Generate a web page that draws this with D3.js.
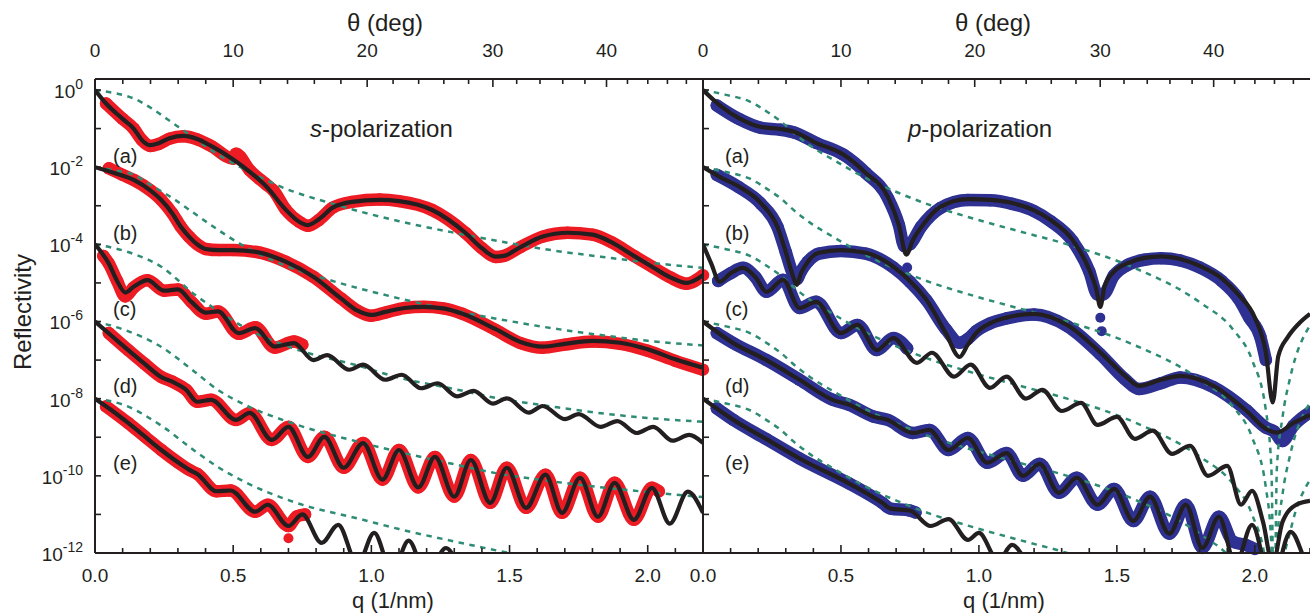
<!DOCTYPE html>
<html><head><meta charset="utf-8">
<script src="https://cdn.jsdelivr.net/npm/d3@7"></script>
<style>
body{margin:0;background:#fff;}
text{font-family:"Liberation Sans",Arial,Helvetica,sans-serif;fill:#231f20;}
</style></head><body>
<svg id="chart" width="1310" height="614"></svg>
<script>
// ---------- DATA: [q (1/nm), log10(Reflectivity)] ----------
// s-polarization: fits (black), data (red), Fresnel reference (green dashed)
const sFitA=[[0,0],[0.04,-0.35],[0.1,-0.75],[0.14,-1.0],[0.17,-1.3],[0.2,-1.43],[0.23,-1.38],[0.27,-1.25],[0.32,-1.19],[0.37,-1.27],[0.42,-1.45],[0.5,-1.8],[0.56,-2.12],[0.62,-2.5],[0.69,-3.1],[0.74,-3.42],[0.77,-3.5],[0.81,-3.35],[0.86,-3.05],[0.93,-2.9],[1.03,-2.85],[1.1,-2.88],[1.22,-3.11],[1.34,-3.7],[1.40,-4.1],[1.45,-4.32],[1.48,-4.3],[1.54,-4.07],[1.62,-3.8],[1.71,-3.7],[1.8,-3.75],[1.87,-3.95],[1.95,-4.3],[2.02,-4.6],[2.08,-4.85],[2.14,-5.0],[2.2,-4.8]];
const sFitB=[[0,-2.0],[0.07,-2.15],[0.14,-2.33],[0.2,-2.6],[0.24,-2.85],[0.28,-3.2],[0.31,-3.54],[0.34,-3.8],[0.37,-4.0],[0.40,-4.12],[0.45,-4.15],[0.5,-4.15],[0.6,-4.22],[0.69,-4.45],[0.79,-4.84],[0.89,-5.4],[0.95,-5.72],[1.0,-5.83],[1.05,-5.75],[1.12,-5.65],[1.19,-5.62],[1.26,-5.66],[1.33,-5.8],[1.45,-6.2],[1.54,-6.53],[1.62,-6.65],[1.7,-6.58],[1.80,-6.5],[1.9,-6.55],[2.0,-6.72],[2.1,-6.98],[2.2,-7.2]];
const sFitC=[[0,-4.0],[0.05,-4.5],[0.08,-4.95],[0.11,-5.25],[0.14,-5.1],[0.19,-4.93],[0.25,-5.2],[0.30,-5.17],[0.35,-5.5],[0.40,-5.77],[0.445,-5.74],[0.52,-6.3],[0.58,-6.17],[0.65,-6.65],[0.72,-6.56],[0.79,-7.0],[0.84,-6.87],[0.92,-7.25],[0.97,-7.12],[1.05,-7.51],[1.11,-7.38],[1.18,-7.73],[1.24,-7.6],[1.31,-7.94],[1.37,-7.8],[1.44,-8.13],[1.49,-7.99],[1.57,-8.36],[1.62,-8.19],[1.70,-8.53],[1.75,-8.4],[1.83,-8.73],[1.89,-8.58],[1.96,-8.89],[2.02,-8.73],[2.09,-9.09],[2.15,-8.94],[2.2,-9.15]];
const sFitD=[[0,-6.0],[0.06,-6.37],[0.12,-6.74],[0.18,-7.1],[0.24,-7.44],[0.28,-7.56],[0.33,-7.77],[0.37,-8.08],[0.42,-8.03],[0.51,-8.55],[0.56,-8.37],[0.64,-9.07],[0.70,-8.73],[0.77,-9.51],[0.83,-8.99],[0.90,-9.79],[0.97,-9.15],[1.04,-10.1],[1.10,-9.33],[1.17,-10.3],[1.23,-9.51],[1.30,-10.54],[1.36,-9.59],[1.43,-10.7],[1.49,-9.79],[1.56,-10.83],[1.63,-9.97],[1.69,-10.96],[1.755,-10.05],[1.82,-11.06],[1.88,-10.18],[1.95,-11.14],[2.015,-10.31],[2.08,-11.24],[2.145,-10.41],[2.2,-10.96]];
const sFitE=[[0,-8.0],[0.06,-8.3],[0.12,-8.63],[0.18,-8.98],[0.24,-9.33],[0.30,-9.65],[0.34,-9.84],[0.37,-9.95],[0.44,-10.4],[0.49,-10.38],[0.58,-10.93],[0.625,-10.75],[0.70,-11.3],[0.75,-11.0],[0.82,-11.74],[0.88,-11.27],[0.95,-12.3],[1.01,-11.48],[1.075,-12.5],[1.135,-11.68],[1.2,-12.6],[1.27,-11.87],[1.33,-12.7]];
const sDataA=[[0.04,-0.35],[0.1,-0.75],[0.14,-1.0],[0.17,-1.3],[0.2,-1.45],[0.23,-1.4],[0.27,-1.26],[0.32,-1.2],[0.37,-1.28],[0.42,-1.45],[0.5,-1.78],[0.51,-1.65],[0.56,-2.08],[0.62,-2.45],[0.645,-2.6],[0.69,-3.1],[0.74,-3.42],[0.77,-3.52],[0.81,-3.37],[0.86,-3.05],[0.93,-2.9],[1.03,-2.84],[1.1,-2.88],[1.22,-3.11],[1.34,-3.7],[1.40,-4.1],[1.45,-4.33],[1.48,-4.3],[1.54,-4.07],[1.62,-3.8],[1.71,-3.7],[1.8,-3.75],[1.87,-3.95],[1.95,-4.3],[2.02,-4.6],[2.08,-4.85],[2.14,-5.02],[2.2,-4.8]];
const sDataB=[[0.05,-2.03],[0.1,-2.2],[0.14,-2.33],[0.2,-2.6],[0.24,-2.85],[0.28,-3.2],[0.31,-3.54],[0.34,-3.8],[0.37,-4.0],[0.40,-4.12],[0.45,-4.15],[0.5,-4.15],[0.6,-4.22],[0.69,-4.45],[0.79,-4.84],[0.89,-5.4],[0.95,-5.72],[1.0,-5.85],[1.05,-5.77],[1.12,-5.65],[1.19,-5.62],[1.26,-5.66],[1.33,-5.8],[1.45,-6.22],[1.54,-6.56],[1.62,-6.68],[1.7,-6.6],[1.80,-6.52],[1.9,-6.58],[2.0,-6.76],[2.1,-7.02],[2.2,-7.25]];
const sDataC=[[0.03,-4.3],[0.05,-4.5],[0.08,-4.95],[0.11,-5.35],[0.14,-5.12],[0.19,-4.93],[0.25,-5.2],[0.30,-5.17],[0.35,-5.5],[0.40,-5.8],[0.445,-5.74],[0.52,-6.32],[0.58,-6.15],[0.65,-6.68],[0.72,-6.52],[0.75,-6.6]];
const sDataD=[[0.05,-6.3],[0.12,-6.74],[0.18,-7.1],[0.24,-7.44],[0.28,-7.56],[0.33,-7.77],[0.37,-8.08],[0.42,-8.03],[0.51,-8.55],[0.56,-8.37],[0.64,-9.07],[0.70,-8.73],[0.77,-9.51],[0.83,-8.99],[0.90,-9.79],[0.97,-9.15],[1.04,-10.1],[1.10,-9.33],[1.17,-10.3],[1.23,-9.51],[1.30,-10.54],[1.36,-9.59],[1.43,-10.7],[1.49,-9.79],[1.56,-10.83],[1.63,-9.97],[1.69,-10.96],[1.755,-10.05],[1.82,-11.06],[1.88,-10.18],[1.95,-11.14],[2.015,-10.31],[2.04,-10.4]];
const sDataE=[[0.04,-8.2],[0.12,-8.63],[0.18,-8.98],[0.24,-9.33],[0.30,-9.65],[0.34,-9.84],[0.37,-9.95],[0.44,-10.4],[0.49,-10.38],[0.58,-10.93],[0.625,-10.75],[0.70,-11.3],[0.73,-11.05],[0.76,-11.0]];
const sOutliers=[[0.70,-11.62]];
const sRefA=[[0,0],[0.07,-0.08],[0.14,-0.22],[0.21,-0.5],[0.28,-0.85],[0.35,-1.2],[0.44,-1.65],[0.54,-2.05],[0.67,-2.5],[0.86,-2.95],[1.1,-3.4],[1.3,-3.7],[1.47,-3.93],[1.65,-4.15],[1.83,-4.32],[2.0,-4.47],[2.2,-4.61]];
const sRefB=[[0,-2.0],[0.07,-2.08],[0.14,-2.2],[0.21,-2.5],[0.28,-2.8],[0.35,-3.15],[0.44,-3.6],[0.54,-4.05],[0.67,-4.5],[0.86,-4.95],[1.1,-5.4],[1.3,-5.72],[1.47,-5.95],[1.65,-6.17],[1.83,-6.35],[2.0,-6.5],[2.2,-6.62]];
const sRefC=[[0,-4.0],[0.07,-4.1],[0.14,-4.25],[0.24,-4.58],[0.36,-5.3],[0.44,-5.7],[0.54,-6.15],[0.72,-6.7],[0.97,-7.18],[1.085,-7.43],[1.3,-7.75],[1.45,-7.98],[1.65,-8.2],[1.81,-8.36],[2.0,-8.5],[2.2,-8.6]];
const sRefD=[[0,-6.0],[0.1,-6.2],[0.24,-6.66],[0.36,-7.3],[0.44,-7.75],[0.54,-8.15],[0.72,-8.65],[0.97,-9.15],[1.1,-9.38],[1.3,-9.7],[1.45,-9.93],[1.63,-10.12],[1.81,-10.28],[2.0,-10.42],[2.2,-10.55]];
const sRefE=[[0,-8.0],[0.1,-8.15],[0.24,-8.7],[0.36,-9.35],[0.44,-9.75],[0.54,-10.15],[0.72,-10.68],[0.97,-11.14],[1.1,-11.38],[1.3,-11.7],[1.5,-12.0],[1.7,-12.25]];

// p-polarization
const pFitA=[[0,0],[0.06,-0.39],[0.13,-0.73],[0.21,-0.96],[0.28,-1.01],[0.33,-1.08],[0.41,-1.37],[0.51,-1.68],[0.59,-2.15],[0.67,-2.77],[0.71,-3.5],[0.737,-4.27],[0.76,-3.9],[0.797,-3.5],[0.86,-3.03],[0.96,-2.83],[1.04,-2.85],[1.12,-2.93],[1.2,-3.12],[1.26,-3.37],[1.34,-3.89],[1.40,-4.66],[1.425,-5.15],[1.44,-5.62],[1.455,-5.1],[1.49,-4.7],[1.535,-4.5],[1.6,-4.35],[1.66,-4.31],[1.73,-4.38],[1.80,-4.56],[1.88,-4.88],[1.94,-5.3],[2.0,-5.9],[2.04,-6.8],[2.065,-8.1],[2.085,-6.9],[2.12,-6.4],[2.16,-6.05],[2.2,-5.8]];
const pFitB=[[0,-2.0],[0.06,-2.25],[0.13,-2.5],[0.21,-2.93],[0.27,-3.55],[0.30,-4.2],[0.325,-4.8],[0.34,-5.05],[0.355,-4.75],[0.38,-4.45],[0.42,-4.22],[0.5,-4.15],[0.59,-4.22],[0.69,-4.58],[0.75,-4.95],[0.81,-5.44],[0.88,-6.3],[0.93,-6.92],[0.96,-6.6],[0.99,-6.3],[1.04,-6.05],[1.1,-5.9],[1.2,-5.8],[1.32,-6.09],[1.44,-6.8],[1.53,-7.41],[1.58,-7.67],[1.66,-7.51],[1.73,-7.41],[1.85,-7.67],[1.97,-8.32],[2.04,-8.78],[2.08,-8.88],[2.14,-8.63],[2.2,-8.42]];
const pFitC=[[0,-4.0],[0.03,-4.5],[0.06,-4.97],[0.1,-4.75],[0.145,-4.61],[0.19,-4.85],[0.23,-5.23],[0.29,-4.92],[0.35,-5.65],[0.41,-5.49],[0.50,-6.3],[0.56,-6.09],[0.63,-6.74],[0.69,-6.43],[0.775,-7.07],[0.83,-6.81],[0.91,-7.43],[0.97,-7.12],[1.04,-7.72],[1.10,-7.43],[1.17,-8.0],[1.23,-7.77],[1.30,-8.32],[1.37,-8.11],[1.43,-8.68],[1.50,-8.47],[1.565,-9.04],[1.63,-8.83],[1.70,-9.43],[1.765,-9.22],[1.83,-10.0],[1.90,-9.74],[1.95,-10.75],[1.99,-10.39],[2.03,-11.2],[2.065,-12.3],[2.1,-11.2],[2.15,-10.75],[2.2,-10.65]];
const pFitD=[[0,-6.0],[0.11,-6.56],[0.23,-7.0],[0.35,-7.51],[0.47,-8.03],[0.53,-8.16],[0.62,-8.47],[0.67,-8.55],[0.76,-8.89],[0.82,-8.81],[0.89,-9.33],[0.96,-9.02],[1.03,-9.66],[1.10,-9.41],[1.16,-10.0],[1.22,-9.69],[1.29,-10.44],[1.355,-10.05],[1.43,-10.75],[1.49,-10.34],[1.56,-11.17],[1.62,-10.54],[1.69,-11.5],[1.75,-10.75],[1.81,-11.87],[1.87,-11.06],[1.93,-12.3],[1.99,-11.27],[2.06,-12.8],[2.13,-11.45],[2.19,-12.3],[2.2,-12.4]];
const pFitE=[[0,-8.0],[0.11,-8.55],[0.23,-9.05],[0.35,-9.55],[0.53,-10.2],[0.65,-10.7],[0.68,-10.85],[0.75,-10.9],[0.825,-11.3],[0.89,-11.12],[0.96,-11.66],[1.0,-11.48],[1.07,-12.2],[1.12,-11.79],[1.18,-12.4]];
const pDataA=[[0.05,-0.4],[0.13,-0.75],[0.21,-0.98],[0.28,-1.03],[0.33,-1.1],[0.41,-1.37],[0.51,-1.68],[0.59,-2.15],[0.67,-2.8],[0.71,-3.5],[0.73,-4.05],[0.75,-4.0],[0.79,-3.55],[0.86,-3.06],[0.96,-2.85],[1.04,-2.86],[1.12,-2.95],[1.2,-3.14],[1.26,-3.4],[1.34,-3.92],[1.40,-4.7],[1.43,-5.3],[1.45,-5.3],[1.49,-4.8],[1.535,-4.55],[1.6,-4.4],[1.66,-4.36],[1.73,-4.42],[1.80,-4.6],[1.88,-4.95],[1.94,-5.4],[1.98,-5.9],[2.02,-6.4],[2.04,-7.0]];
const pDataB=[[0.05,-2.2],[0.13,-2.52],[0.21,-2.95],[0.27,-3.55],[0.30,-4.2],[0.325,-4.75],[0.34,-4.9],[0.355,-4.7],[0.38,-4.45],[0.42,-4.24],[0.5,-4.17],[0.59,-4.24],[0.69,-4.6],[0.75,-4.97],[0.81,-5.45],[0.88,-6.2],[0.93,-6.55],[0.96,-6.45],[0.99,-6.25],[1.04,-6.05],[1.1,-5.92],[1.2,-5.82],[1.32,-6.12],[1.44,-6.85],[1.53,-7.5],[1.58,-7.75],[1.66,-7.6],[1.73,-7.45],[1.85,-7.7],[1.97,-8.3],[2.04,-8.75],[2.07,-8.85],[2.1,-9.1],[2.14,-8.7],[2.2,-8.35]];
const pDataC=[[0.055,-4.95],[0.1,-4.75],[0.145,-4.61],[0.19,-4.85],[0.23,-5.23],[0.29,-4.92],[0.35,-5.65],[0.41,-5.49],[0.50,-6.3],[0.56,-6.09],[0.63,-6.74],[0.69,-6.43],[0.74,-6.7]];
const pDataD=[[0.05,-6.3],[0.11,-6.56],[0.23,-7.0],[0.35,-7.51],[0.47,-8.03],[0.53,-8.16],[0.62,-8.47],[0.67,-8.55],[0.76,-8.89],[0.82,-8.81],[0.89,-9.33],[0.96,-9.02],[1.03,-9.66],[1.10,-9.41],[1.16,-10.0],[1.22,-9.69],[1.29,-10.44],[1.355,-10.05],[1.43,-10.75],[1.49,-10.34],[1.56,-11.17],[1.62,-10.54],[1.69,-11.5],[1.75,-10.75],[1.81,-11.87],[1.87,-11.06],[1.92,-11.7],[1.97,-11.8],[2.0,-11.9]];
const pDataE=[[0.05,-8.25],[0.11,-8.55],[0.23,-9.05],[0.35,-9.55],[0.53,-10.2],[0.65,-10.7],[0.68,-10.85],[0.75,-10.9],[0.77,-10.95]];
const pOutliers=[[0.74,-4.6],[1.44,-5.9],[1.445,-6.25]];
const pRefA=[[0,0],[0.08,-0.12],[0.17,-0.3],[0.24,-0.6],[0.28,-0.8],[0.33,-1.12],[0.39,-1.45],[0.47,-1.8],[0.59,-2.28],[0.71,-2.67],[0.83,-3.0],[0.96,-3.29],[1.14,-3.65],[1.32,-4.0],[1.56,-4.6],[1.8,-5.5],[1.92,-6.2],[1.99,-7.0],[2.04,-8.3],[2.06,-9.8],[2.07,-14],[2.08,-9.8],[2.1,-8.5],[2.13,-7.4],[2.2,-6.1]];
const pRefB=[[0,-2.0],[0.08,-2.12],[0.17,-2.3],[0.24,-2.6],[0.28,-2.8],[0.33,-3.12],[0.39,-3.45],[0.47,-3.8],[0.59,-4.28],[0.71,-4.67],[0.83,-5.0],[0.96,-5.29],[1.14,-5.65],[1.32,-6.0],[1.56,-6.6],[1.8,-7.5],[1.92,-8.2],[1.99,-9.0],[2.04,-10.3],[2.06,-11.8],[2.07,-16],[2.08,-11.8],[2.1,-10.5],[2.13,-9.4],[2.2,-8.1]];
const pRefC=[[0,-4.0],[0.08,-4.12],[0.17,-4.3],[0.24,-4.6],[0.28,-4.8],[0.33,-5.12],[0.39,-5.45],[0.47,-5.8],[0.59,-6.28],[0.71,-6.67],[0.83,-7.0],[0.96,-7.29],[1.14,-7.65],[1.32,-8.0],[1.56,-8.6],[1.8,-9.5],[1.92,-10.2],[1.99,-11.0],[2.04,-12.3],[2.07,-18],[2.1,-12.5],[2.13,-11.4],[2.2,-10.1]];
const pRefD=[[0,-6.0],[0.08,-6.12],[0.17,-6.3],[0.24,-6.6],[0.28,-6.8],[0.33,-7.12],[0.39,-7.45],[0.47,-7.8],[0.59,-8.28],[0.71,-8.67],[0.83,-9.0],[0.96,-9.29],[1.14,-9.65],[1.32,-10.0],[1.56,-10.6],[1.8,-11.5],[1.92,-12.2],[1.99,-13.0],[2.07,-20],[2.13,-13.4],[2.2,-12.1]];
const pRefE=[[0,-8.0],[0.08,-8.12],[0.17,-8.3],[0.24,-8.6],[0.28,-8.8],[0.33,-9.12],[0.39,-9.45],[0.47,-9.8],[0.59,-10.28],[0.71,-10.67],[0.83,-11.0],[0.96,-11.29],[1.14,-11.65],[1.32,-12.0],[1.56,-12.6]];

// axis ticks & labels
const qTicks=[0,0.5,1.0,1.5,2.0];
const qTickLabels=["0.0","0.5","1.0","1.5","2.0"];
const qMinorStep=0.1;
const thetaTicks=[0,10,20,30,40];
const thetaTickLabels=["0","10","20","30","40"];
const thetaMinorStep=2;
const yTickExps=[0,-2,-4,-6,-8,-10,-12];
const curveLabels=["(a)","(b)","(c)","(d)","(e)"];

// ---------- LAYOUT ----------
const svg=d3.select('#chart');
const TOP=79,BOT=553;
const ink='#231f20', green='#2f8c74';
const y=d3.scaleLog().domain([1e-12,Math.pow(10,0.285)]).range([BOT,TOP]);
const lambda=4*Math.PI*Math.sin(10*Math.PI/180)/0.5; // top axis: q = 4π sinθ / λ
const qOfTheta=t=>4*Math.PI*Math.sin(t*Math.PI/180)/lambda;

const panels=[
 {key:'s',x0:95,x1:703,color:'#ed1c24',fits:[sFitA,sFitB,sFitC,sFitD,sFitE],data:[sDataA,sDataB,sDataC,sDataD,sDataE],refs:[sRefA,sRefB,sRefC,sRefD,sRefE],out:sOutliers,title:'s',labelX:113,yLabels:true,qx:393,tx:385,px:310},
 {key:'p',x0:703,x1:1310,color:'#2e3192',fits:[pFitA,pFitB,pFitC,pFitD,pFitE],data:[pDataA,pDataB,pDataC,pDataD,pDataE],refs:[pRefA,pRefB,pRefC,pRefD,pRefE],out:pOutliers,title:'p',labelX:725,yLabels:false,qx:1004,tx:993,px:908}
];

const layerBand=svg.append('g'), layerPts=svg.append('g'), layerRef=svg.append('g'), layerFit=svg.append('g'), layerAxis=svg.append('g');

panels.forEach(p=>{
  const x=d3.scaleLinear().domain([0,2.2]).range([p.x0,p.x1]);
  const clipId='clip-'+p.key;
  svg.append('clipPath').attr('id',clipId).append('rect')
    .attr('x',p.x0).attr('y',TOP).attr('width',p.x1-p.x0).attr('height',BOT-TOP);
  const line=d3.line().x(d=>x(d[0])).y(d=>y(Math.pow(10,d[1]))).curve(d3.curveMonotoneX);
  // data bands (dense measured points)
  layerBand.append('g').attr('clip-path',`url(#${clipId})`)
    .selectAll('path').data(p.data).join('path')
    .attr('d',line).attr('fill','none').attr('stroke',p.color).attr('stroke-width',12.5)
    .attr('stroke-linecap','round').attr('stroke-linejoin','round');
  // data points
  const pts=p.data.flat().concat(p.out);
  layerPts.append('g').selectAll('circle').data(pts).join('circle')
    .attr('cx',d=>x(d[0])).attr('cy',d=>y(Math.pow(10,d[1]))).attr('r',d=>p.out.includes(d)?5:6.2)
    .attr('fill',p.color);
  // reference dashed
  layerRef.append('g').attr('clip-path',`url(#${clipId})`)
    .selectAll('path').data(p.refs).join('path')
    .attr('d',line).attr('fill','none').attr('stroke',green).attr('stroke-width',2.5)
    .attr('stroke-dasharray','5.5,5.5');
  // fit
  layerFit.append('g').attr('clip-path',`url(#${clipId})`)
    .selectAll('path').data(p.fits).join('path')
    .attr('d',line).attr('fill','none').attr('stroke',ink).attr('stroke-width',4.2)
    .attr('stroke-linejoin','round');

  const A=layerAxis.append('g');
  // bottom axis ticks
  const minorQ=d3.range(0,2.2001,qMinorStep).map(v=>+v.toFixed(2));
  A.append('g').selectAll('line').data(minorQ).join('line')
    .attr('x1',d=>x(d)).attr('x2',d=>x(d)).attr('y1',BOT)
    .attr('y2',d=>BOT-(qTicks.some(t=>Math.abs(t-d)<1e-6)?8:5)).attr('stroke',ink).attr('stroke-width',1.6);
  A.append('g').selectAll('text').data(qTicks).join('text')
    .attr('x',d=>x(d)).attr('y',582).attr('text-anchor','middle').attr('font-size',19)
    .text((d,i)=>qTickLabels[i]);
  // top axis ticks
  const minorT=d3.range(0,50,thetaMinorStep).filter(t=>qOfTheta(t)<=2.2);
  A.append('g').selectAll('line').data(minorT).join('line')
    .attr('x1',d=>x(qOfTheta(d))).attr('x2',d=>x(qOfTheta(d))).attr('y1',TOP)
    .attr('y2',d=>TOP+(d%10===0?8:5)).attr('stroke',ink).attr('stroke-width',1.6);
  A.append('g').selectAll('text').data(thetaTicks).join('text')
    .attr('x',d=>x(qOfTheta(d))).attr('y',57).attr('text-anchor','middle').attr('font-size',19)
    .text((d,i)=>thetaTickLabels[i]);
  // left axis ticks
  const decades=d3.range(0,-13,-1);
  A.append('g').selectAll('line').data(decades).join('line')
    .attr('x1',p.x0).attr('x2',p.x0+6).attr('y1',d=>y(Math.pow(10,d))).attr('y2',d=>y(Math.pow(10,d)))
    .attr('stroke',ink).attr('stroke-width',1.6);
  if(p.yLabels){
    const t=A.append('g').selectAll('text').data(yTickExps).join('text')
      .attr('x',83).attr('y',d=>y(Math.pow(10,d))+8).attr('text-anchor','end').attr('font-size',19);
    t.append('tspan').text('10');
    t.append('tspan').attr('dy',-9).attr('font-size',14).text(d=>String(d));
  }
  // axis titles
  A.append('text').attr('x',p.qx).attr('y',608).attr('text-anchor','middle').attr('font-size',22).text('q (1/nm)');
  A.append('text').attr('x',p.tx).attr('y',31).attr('text-anchor','middle').attr('font-size',24).text('θ (deg)');
  const tt=A.append('text').attr('x',p.px).attr('y',137).attr('font-size',24);
  tt.append('tspan').attr('font-style','italic').text(p.title);
  tt.append('tspan').text('-polarization');
  // curve labels
  A.append('g').selectAll('text').data(curveLabels).join('text')
    .attr('x',p.labelX).attr('y',(d,i)=>[163,240,316,393,470][i]).attr('font-size',20).text(d=>d);
});

// frame lines
const F=layerAxis.append('g').attr('stroke',ink).attr('stroke-width',2);
F.append('line').attr('x1',95).attr('x2',1310).attr('y1',TOP).attr('y2',TOP);
F.append('line').attr('x1',95).attr('x2',1310).attr('y1',BOT).attr('y2',BOT);
F.append('line').attr('x1',95).attr('x2',95).attr('y1',TOP).attr('y2',BOT);
F.append('line').attr('x1',703).attr('x2',703).attr('y1',TOP).attr('y2',BOT);

layerAxis.append('text').attr('transform','translate(31,312) rotate(-90)').attr('text-anchor','middle').attr('font-size',24).text('Reflectivity');
</script>
</body></html>
